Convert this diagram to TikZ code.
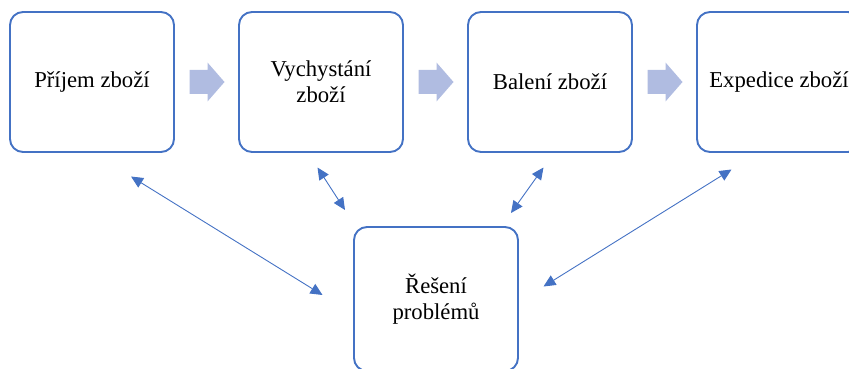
\documentclass[tikz,border=0pt]{standalone}
\usepackage{fontspec}
\setmainfont{Liberation Serif}
\usetikzlibrary{arrows.meta}
\definecolor{frame}{HTML}{4472C4}
\definecolor{flow}{HTML}{B0BCE1}
\begin{document}
\begin{tikzpicture}[x=1pt,y=-1pt,
  stepbox/.style={draw=frame,line width=1.9pt,rounded corners=13pt,fill=white,
    minimum width=164pt,minimum height=140pt,inner sep=0pt,align=center,
    font=\fontsize{22.7}{26}\selectfont},
  link/.style={draw=frame,line width=0.9pt,
    {Triangle[length=12pt,width=11pt]}-{Triangle[length=12pt,width=11pt]}},
  chevron/.style={fill=flow,draw=none}]
\useasboundingbox (0,0) rectangle (849,369);
\clip (0,0) rectangle (849,369);

% process steps
\node[stepbox] (prijem)     at (92,82)  {Příjem zboží};
\node[stepbox] (vychystani) at (321,82) {Vychystání\\zboží};
\node[stepbox] (baleni)     at (550,82) {Balení zboží};
\node[stepbox] (expedice)   at (779,82) {Expedice zboží};
\node[stepbox,minimum height=144pt] (reseni) at (436,299) {Řešení\\problémů};

% flow chevrons between the steps
\foreach \dx in {0,229,458}{
  \fill[chevron,xshift=\dx pt] (189.5,70) -- (207.5,70) -- (207.5,62.5) -- (224.5,82)
    -- (207.5,101.5) -- (207.5,94) -- (189.5,94) -- cycle;
}

% two-way links between the steps and problem solving
\coordinate (a1) at (131,176.5);  \coordinate (b1) at (322.5,295);
\coordinate (a2) at (317.5,167.5); \coordinate (b2) at (345,210);
\coordinate (a3) at (543.5,167.5); \coordinate (b3) at (511,213);
\coordinate (a4) at (731.5,169.5); \coordinate (b4) at (543.5,286.5);
\draw[link] (a1) -- (b1);
\draw[link] (a2) -- (b2);
\draw[link] (a3) -- (b3);
\draw[link] (a4) -- (b4);
\end{tikzpicture}
\end{document}
